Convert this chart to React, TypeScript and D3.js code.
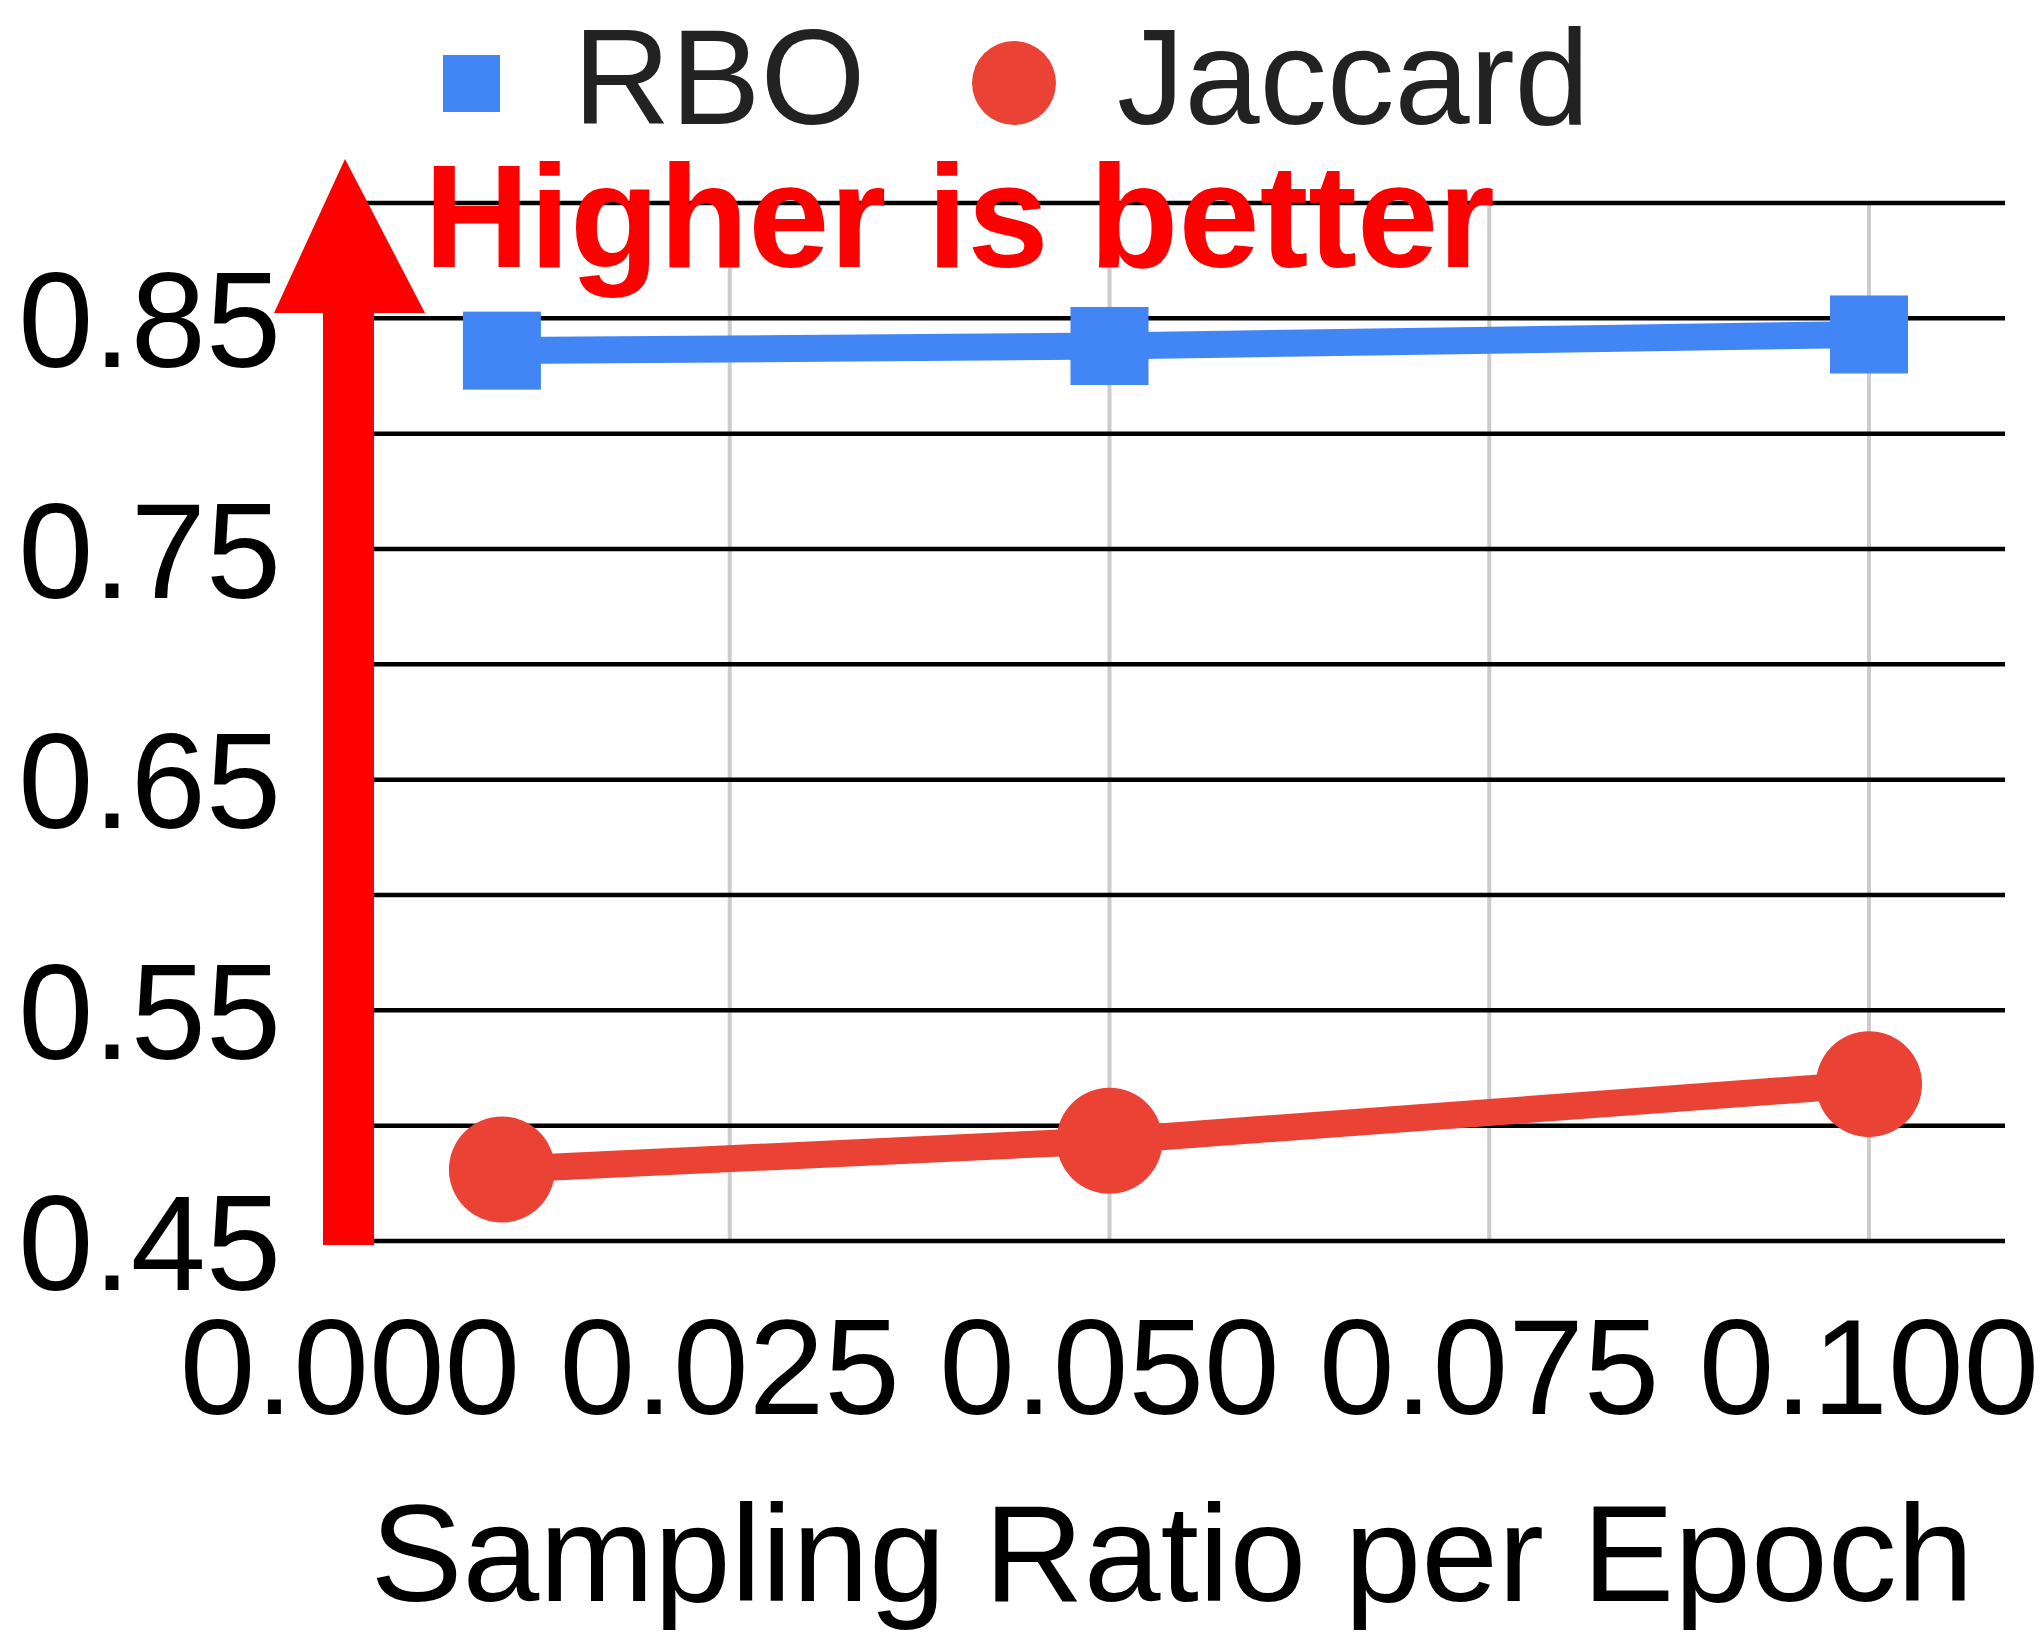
import React from 'react';
import * as d3 from 'd3';

// - Data
const ratios = [0.01, 0.05, 0.1];
const rbo = [0.836, 0.838, 0.843];
const jaccard = [0.481, 0.4935, 0.518];
const yGrid = [0.45, 0.5, 0.55, 0.6, 0.65, 0.7, 0.75, 0.8, 0.85, 0.9];
const yLabels = [0.45, 0.55, 0.65, 0.75, 0.85];
const xTicks = [0, 0.025, 0.05, 0.075, 0.1];

const W = 2044;
const H = 1640;
const FONT = '"Liberation Sans", Arial, sans-serif';
const BLUE = '#4285f4';
const RED = '#ea4335';

export default function App()
{
	const x = d3.scaleLinear().domain([0, 0.1]).range([350, 1869]);
	const y = d3.scaleLinear().domain([0.45, 0.9]).range([1241, 203]);
	const gridLeft = 352;
	const gridRight = 2005;

	const line = d3.line<number>()
		.x((d, i) => x(ratios[i]))
		.y(d => y(d));

	return (
		<div style={{ position: 'absolute', left: 0, top: 0 }}>
			<svg width={W} height={H} style={{ display: 'block', background: '#fff' }}>
				{/* vertical grid */}
				{xTicks.slice(1).map(t => (
					<line key={'v' + t} x1={x(t)} x2={x(t)} y1={y(0.9)} y2={y(0.45)} stroke="#cccccc" strokeWidth={4} />
				))}
				{/* horizontal grid */}
				{yGrid.map(t => (
					<line key={'h' + t} x1={gridLeft} x2={gridRight} y1={y(t)} y2={y(t)} stroke="#000" strokeWidth={4.5} />
				))}

				{/* y labels */}
				{yLabels.map(t => (
					<text key={'yl' + t} x={281} y={y(t)} dy="0.36em" textAnchor="end" fontFamily={FONT} fontSize={135} fill="#000">
						{t.toFixed(2)}
					</text>
				))}
				{/* x labels */}
				{xTicks.map(t => (
					<text key={'xl' + t} x={x(t)} y={1414} textAnchor="middle" fontFamily={FONT} fontSize={136} fill="#000">
						{t.toFixed(3)}
					</text>
				))}
				<text x={1172} y={1601} textAnchor="middle" fontFamily={FONT} fontSize={138} fill="#000">
					Sampling Ratio per Epoch
				</text>

				{/* series */}
				<path d={line(rbo) || ''} fill="none" stroke={BLUE} strokeWidth={27} />
				{rbo.map((v, i) => (
					<rect key={'r' + i} x={x(ratios[i]) - 39} y={y(v) - 39} width={78} height={78} fill={BLUE} />
				))}
				<path d={line(jaccard) || ''} fill="none" stroke={RED} strokeWidth={27} />
				{jaccard.map((v, i) => (
					<circle key={'j' + i} cx={x(ratios[i])} cy={y(v)} r={53} fill={RED} />
				))}

				{/* arrow */}
				<rect x={323} y={310} width={51} height={935} fill="#ff0000" />
				<polygon points="345,159 274,313 425,313" fill="#ff0000" />
				<text x={424} y={267} fontFamily={FONT} fontWeight="bold" fontSize={146} fill="#ff0000">
					Higher is better
				</text>

				{/* legend */}
				<rect x={443} y={55} width={57} height={57} fill={BLUE} />
				<text x={573} y={124} fontFamily={FONT} fontSize={135} fill="#222">RBO</text>
				<circle cx={1014} cy={83} r={42} fill={RED} />
				<text x={1117} y={124} fontFamily={FONT} fontSize={135} fill="#222">Jaccard</text>
			</svg>
		</div>
	);
}
